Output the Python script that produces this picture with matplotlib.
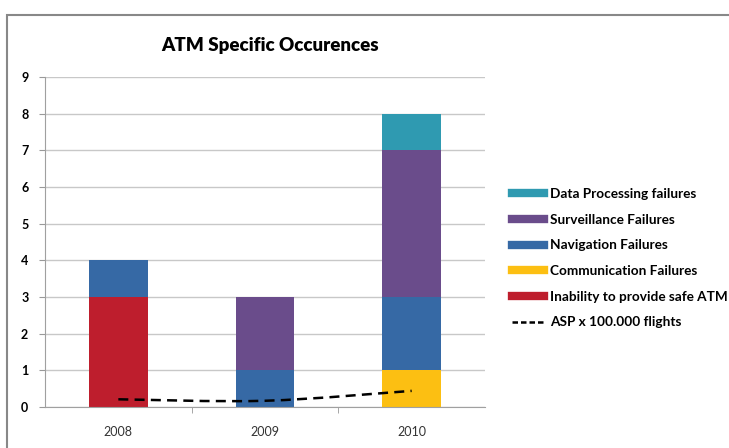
import numpy as np
import matplotlib
matplotlib.use("Agg")
import matplotlib.pyplot as plt
from matplotlib.lines import Line2D
from matplotlib.path import Path
from matplotlib.patches import PathPatch, Rectangle

plt.rcParams['font.family'] = ['Lato', 'DejaVu Sans']

# ---------- data ----------
years = ["2008", "2009", "2010"]
inability = [3, 0, 0]
communication = [0, 0, 1]
navigation = [1, 1, 2]
surveillance = [0, 2, 4]
data_processing = [0, 0, 1]
asp = [0.21, 0.17, 0.44]   # ASP x 100.000 flights

series = [
    ("Inability to provide safe ATM", inability, "#BE1E2D"),
    ("Communication Failures", communication, "#FCBF12"),
    ("Navigation Failures", navigation, "#3669A5"),
    ("Surveillance Failures", surveillance, "#6A4C8B"),
    ("Data Processing failures", data_processing, "#2F9AB1"),
]

fig = plt.figure(figsize=(7.29, 4.48), dpi=100)
ax = fig.add_axes([45/729, 1-407/448, 440/729, 330/448])

x = np.arange(len(years))
bottom = np.zeros(len(years))
for name, vals, col in series:
    ax.bar(x, vals, width=0.4, bottom=bottom, color=col, zorder=2)
    bottom += np.array(vals)

# smoothed dashed line (bezier through the data points)
pts = np.column_stack([x, asp]).astype(float)
verts = [pts[0]]
codes = [Path.MOVETO]
for i in range(len(pts) - 1):
    p0 = pts[max(i - 1, 0)]
    p1, p2 = pts[i], pts[i + 1]
    p3 = pts[min(i + 2, len(pts) - 1)]
    verts += [p1 + (p2 - p0) / 6, p2 - (p3 - p1) / 6, p2]
    codes += [Path.CURVE4] * 3
ax.add_patch(PathPatch(Path(verts, codes), fill=False, edgecolor="black",
                       lw=1.8, ls=(0, (4, 2.5)), zorder=3))

ax.set_xlim(-0.5, 2.5)
ax.set_ylim(0, 9)
ax.set_yticks(range(10))
ax.set_yticklabels([str(i) for i in range(10)], fontweight="bold", fontsize=9)
ax.set_xticks(x)
ax.set_xticklabels(years, fontsize=9, color="#333333")
ax.set_xticks([0.5, 1.5], minor=True)
ax.tick_params(axis="x", which="major", length=0, pad=14)
ax.tick_params(axis="x", which="minor", length=4, color="#999999")
ax.tick_params(axis="y", length=4, color="#999999", pad=8)
ax.grid(axis="y", color="#C8C8C8", lw=1, zorder=0)
for s in ["top", "right"]:
    ax.spines[s].set_visible(False)
for s in ["left", "bottom"]:
    ax.spines[s].set_color("#A0A0A0")

fig.text(270/729, 1-45/448, "ATM Specific Occurences", ha="center", va="center",
         fontsize=13.5, fontweight="heavy")

handles = [Line2D([], [], color=col, lw=6) for _, _, col in series[::-1]]
labels = [name for name, _, _ in series[::-1]]
handles.append(Line2D([], [], color="black", lw=1.8, ls=(0, (2.2, 1.2))))
labels.append("ASP x 100.000 flights")
fig.legend(handles, labels, loc="upper left", bbox_to_anchor=(500/729, 1-176/448),
           frameon=False, handlelength=2.3, handletextpad=0.5,
           labelspacing=1.0, prop={"weight": "bold", "size": 9.8})

# outer chart frame (only top/left visible in the crop)
fig.patches.append(Rectangle((7/729, -0.1), 1.1, 1 - 15/448 + 0.1, transform=fig.transFigure,
                             fill=False, edgecolor="#888888", lw=1.5))

fig.savefig("out.png", dpi=100)
